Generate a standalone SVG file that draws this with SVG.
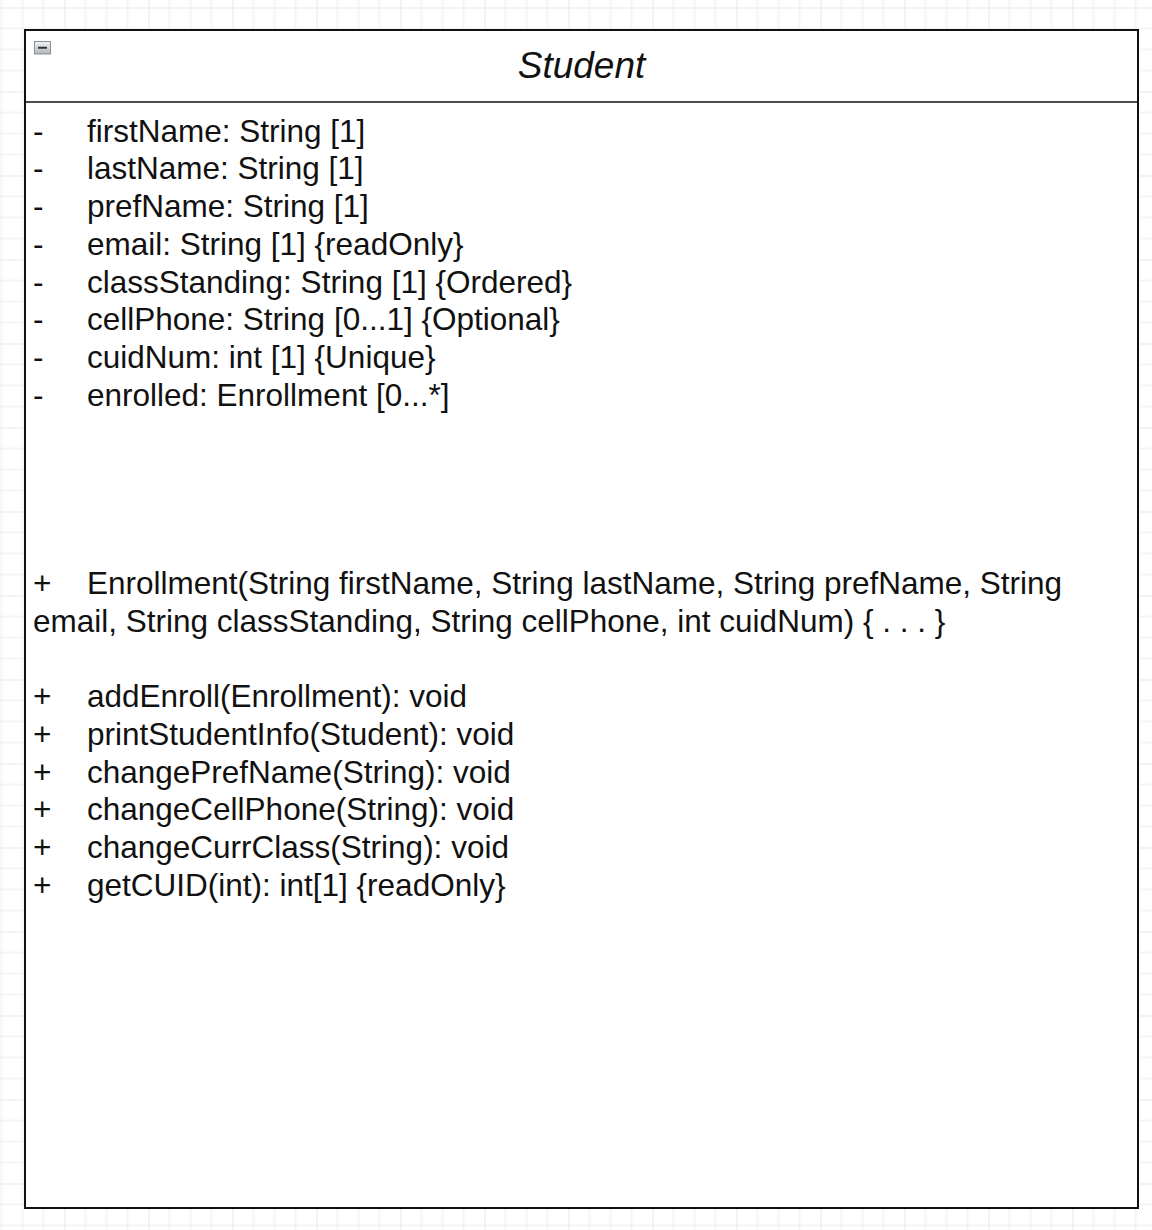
<svg xmlns="http://www.w3.org/2000/svg" width="1152" height="1230" viewBox="0 0 1152 1230">
<style>
.t{font-family:"Liberation Sans",Arial,sans-serif;font-size:31.5px;fill:#111}
.title{font-family:"Liberation Sans",Arial,sans-serif;font-size:37px;font-style:italic;fill:#111}
</style>
<defs>
<pattern id="grid" patternUnits="userSpaceOnUse" x="-19.5" y="7.5" width="84" height="84">
<path d="M21 0V84M42 0V84M63 0V84M0 21H84M0 42H84M0 63H84" stroke="#ebebeb" stroke-width="1" fill="none"/>
<path d="M0 0V84M0 0H84" stroke="#d0d0d0" stroke-width="1" fill="none"/>
</pattern>
<linearGradient id="ic" x1="0" y1="0" x2="0" y2="1">
<stop offset="0" stop-color="#f4f4f4"/>
<stop offset="1" stop-color="#b0b4bc"/>
</linearGradient>
</defs>
<rect width="1152" height="1230" fill="#ffffff"/>
<rect width="1152" height="1230" fill="url(#grid)"/>
<g id="student">
<rect x="25" y="30" width="1113" height="1178" fill="#ffffff" stroke="#111" stroke-width="2"/>
<line x1="25" y1="102" x2="1138" y2="102" stroke="#111" stroke-width="1.5"/>
<rect x="34.5" y="41.5" width="16" height="12.5" fill="url(#ic)" stroke="#8a8f98" stroke-width="1"/>
<line x1="38" y1="47.75" x2="47" y2="47.75" stroke="#333" stroke-width="2"/>
<text class="title" x="581.5" y="78" text-anchor="middle">Student</text>
<text class="t">
<tspan x="33" y="141.7">-</tspan><tspan x="87" y="141.7">firstName: String [1]</tspan>
<tspan x="33" y="179.4">-</tspan><tspan x="87" y="179.4">lastName: String [1]</tspan>
<tspan x="33" y="217.1">-</tspan><tspan x="87" y="217.1">prefName: String [1]</tspan>
<tspan x="33" y="254.8">-</tspan><tspan x="87" y="254.8">email: String [1] {readOnly}</tspan>
<tspan x="33" y="292.5">-</tspan><tspan x="87" y="292.5">classStanding: String [1] {Ordered}</tspan>
<tspan x="33" y="330.2">-</tspan><tspan x="87" y="330.2">cellPhone: String [0...1] {Optional}</tspan>
<tspan x="33" y="367.9">-</tspan><tspan x="87" y="367.9">cuidNum: int [1] {Unique}</tspan>
<tspan x="33" y="405.6">-</tspan><tspan x="87" y="405.6">enrolled: Enrollment [0...*]</tspan>
<tspan x="33" y="594.1">+</tspan><tspan x="87" y="594.1">Enrollment(String firstName, String lastName, String prefName, String</tspan>
<tspan x="33" y="631.8">email, String classStanding, String cellPhone, int cuidNum) { . . . }</tspan>
<tspan x="33" y="707.2">+</tspan><tspan x="87" y="707.2">addEnroll(Enrollment): void</tspan>
<tspan x="33" y="744.9">+</tspan><tspan x="87" y="744.9">printStudentInfo(Student): void</tspan>
<tspan x="33" y="782.6">+</tspan><tspan x="87" y="782.6">changePrefName(String): void</tspan>
<tspan x="33" y="820.3">+</tspan><tspan x="87" y="820.3">changeCellPhone(String): void</tspan>
<tspan x="33" y="858">+</tspan><tspan x="87" y="858">changeCurrClass(String): void</tspan>
<tspan x="33" y="895.7">+</tspan><tspan x="87" y="895.7">getCUID(int): int[1] {readOnly}</tspan>
</text>
</g>
</svg>
